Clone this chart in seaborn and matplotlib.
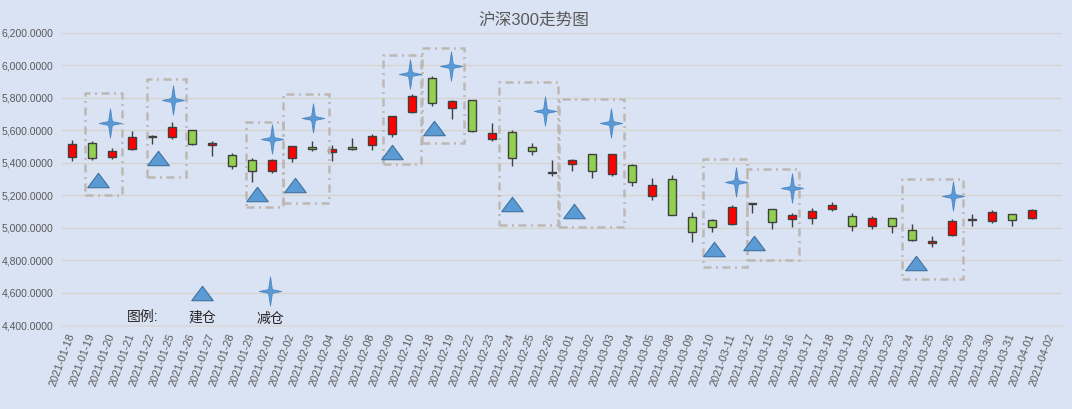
import numpy as np
import pandas as pd
import matplotlib
matplotlib.use("Agg")
import matplotlib.pyplot as plt
from matplotlib.path import Path
from matplotlib.patches import Rectangle
import seaborn as sns

# =========================
# DATA
# =========================
dates = [
    "2021-01-18", "2021-01-19", "2021-01-20", "2021-01-21", "2021-01-22",
    "2021-01-25", "2021-01-26", "2021-01-27", "2021-01-28", "2021-01-29",
    "2021-02-01", "2021-02-02", "2021-02-03", "2021-02-04", "2021-02-05",
    "2021-02-08", "2021-02-09", "2021-02-10", "2021-02-18", "2021-02-19",
    "2021-02-22", "2021-02-23", "2021-02-24", "2021-02-25", "2021-02-26",
    "2021-03-01", "2021-03-02", "2021-03-03", "2021-03-04", "2021-03-05",
    "2021-03-08", "2021-03-09", "2021-03-10", "2021-03-11", "2021-03-12",
    "2021-03-15", "2021-03-16", "2021-03-17", "2021-03-18", "2021-03-19",
    "2021-03-22", "2021-03-23", "2021-03-24", "2021-03-25", "2021-03-26",
    "2021-03-29", "2021-03-30", "2021-03-31", "2021-04-01", "2021-04-02",
]
open_ = [5438, 5524, 5438, 5485, 5567, 5561, 5598, 5506, 5450, 5415,
         5352, 5426, 5496, 5467, 5494, 5506, 5578, 5709, 5918, 5734,
         5783, 5543, 5586, 5494, 5343, 5393, 5454, 5329, 5386, 5195,
         5300, 5065, 5047, 5022, 5152, 5115, 5053, 5063, 5113, 5071,
         5009, 5059, 4984, 4906, 4953, 5052, 5040, 5084, 5059, np.nan]
high = [5539, 5532, 5493, 5594, 5572, 5653, 5600, 5532, 5459, 5428,
        5424, 5502, 5531, 5506, 5549, 5576, 5687, 5820, 5930, 5785,
        5785, 5642, 5600, 5522, 5419, 5425, 5456, 5456, 5390, 5306,
        5325, 5096, 5055, 5139, 5154, 5117, 5090, 5121, 5158, 5090,
        5071, 5062, 5022, 4947, 5053, 5084, 5108, 5086, 5115, np.nan]
low = [5409, 5415, 5424, 5480, 5512, 5543, 5506, 5444, 5360, 5284,
       5337, 5407, 5469, 5410, 5478, 5476, 5555, 5703, 5746, 5666,
       5590, 5535, 5379, 5445, 5316, 5347, 5304, 5316, 5255, 5174,
       5078, 4915, 4977, 5020, 5090, 4991, 5008, 5024, 5104, 4978,
       4995, 4966, 4920, 4883, 4950, 5011, 5032, 5013, 5057, np.nan]
close = [5518, 5430, 5475, 5561, 5561, 5621, 5512, 5524, 5377, 5352,
         5415, 5500, 5482, 5485, 5482, 5562, 5685, 5808, 5764, 5779,
         5592, 5580, 5432, 5469, 5339, 5417, 5349, 5454, 5279, 5263,
         5080, 4973, 5004, 5127, 5148, 5034, 5078, 5102, 5139, 5009,
         5059, 5009, 4928, 4922, 5042, 5048, 5096, 5046, 5108, np.nan]

# 建仓 / 减仓 signals (x in category units, y in index points)
buy_x = [1.31, 4.28, 9.25, 11.15, 16.0, 18.1, 22.0, 25.1, 32.1, 34.1, 42.2]
buy_y = [5296, 5426, 5210, 5262, 5467, 5611, 5146, 5104, 4870, 4909, 4784]
sell_x = [1.9, 5.07, 10.0, 12.07, 16.9, 18.93, 23.65, 26.93, 33.2, 35.98, 44.03]
sell_y = [5647, 5785, 5547, 5672, 5945, 5994, 5720, 5642, 5279, 5244, 5197]

# dashed frames around each trade: x0, x1, y0, y1
box_x0 = [0.65, 3.75, 8.68, 10.53, 15.53, 17.48, 21.35, 24.37, 31.57, 33.77, 41.5]
box_x1 = [2.5, 5.7, 10.57, 12.83, 17.45, 19.6, 24.3, 27.6, 33.77, 36.37, 44.53]
box_y0 = [5202, 5310, 5130, 5151, 5392, 5519, 5017, 5007, 4757, 4802, 4684]
box_y1 = [5826, 5912, 5648, 5822, 6060, 6107, 5898, 5790, 5423, 5360, 5300]

# =========================
# SETTINGS
# =========================
BG = "#DAE3F3"
sns.set_theme(style="white")
plt.rcParams["font.family"] = ["Liberation Sans", "Noto Sans CJK SC", "DejaVu Sans"]
plt.rcParams["axes.unicode_minus"] = False

df = pd.DataFrame({"date": dates, "open": open_, "high": high, "low": low, "close": close})
df["pos"] = np.arange(len(df))
df["up"] = df["close"] > df["open"]

fig = plt.figure(figsize=(10.72, 4.09), dpi=100, facecolor=BG)
ax = fig.add_axes([62 / 1072, 1 - 325.5 / 409, 1000 / 1072, 293 / 409])
ax.set_facecolor(BG)

# candles
valid = df.dropna()
ax.vlines(valid["pos"], valid["low"], valid["high"], color="#404040", lw=1.0, zorder=2)
body_lo = np.minimum(valid["open"], valid["close"])
body_h = np.maximum((valid["close"] - valid["open"]).abs(), 2)
colors = np.where(valid["up"], "#FF0000", "#92D050")
ax.bar(valid["pos"], body_h, bottom=body_lo, width=0.42, color=colors,
       edgecolor="#404040", linewidth=1.0, zorder=3)

# markers
tri = Path([(-1, -0.67), (1, -0.67), (0, 0.67), (-1, -0.67)],
           [Path.MOVETO, Path.LINETO, Path.LINETO, Path.CLOSEPOLY])
sv = [(0, 1), (0.13, 0.13), (0.76, 0), (0.13, -0.13), (0, -1),
      (-0.13, -0.13), (-0.76, 0), (-0.13, 0.13), (0, 1)]
star = Path(sv, [Path.MOVETO] + [Path.LINETO] * 7 + [Path.CLOSEPOLY])

sig = pd.DataFrame({"x": buy_x + [6.5], "y": buy_y + [4600]})
sns.scatterplot(data=sig, x="x", y="y", marker=tri, s=15.5 ** 2, color="#5B9BD5",
                edgecolor="#41719C", linewidth=0.8, ax=ax, zorder=5, legend=False)
sig2 = pd.DataFrame({"x": sell_x + [9.9], "y": sell_y + [4612]})
sns.scatterplot(data=sig2, x="x", y="y", marker=star, s=21 ** 2, color="#5B9BD5",
                edgecolor="#4A86C5", linewidth=0.6, ax=ax, zorder=5, legend=False)

# frames
for x0, x1, y0, y1 in zip(box_x0, box_x1, box_y0, box_y1):
    ax.add_patch(Rectangle((x0, y0), x1 - x0, y1 - y0, fill=False,
                           edgecolor="#BDB8B2", lw=1.8,
                           linestyle=(0, (3.2, 1.8, 0.8, 1.8)), zorder=4))

# legend texts
ax.text(3.55, 4455, "图例:", ha="center", va="center", fontsize=10, color="#262626")
ax.text(6.5, 4448, "建仓", ha="center", va="center", fontsize=10, color="#262626")
ax.text(9.9, 4443, "减仓", ha="center", va="center", fontsize=10, color="#262626")

# axes
ax.set_xlim(-0.5, len(dates) - 0.5)
ax.set_ylim(4400, 6200)
ax.set_yticks(np.arange(4400, 6201, 200))
ax.set_yticklabels([f"{v:,.4f}" for v in np.arange(4400, 6201, 200)],
                   fontsize=7.5, color="#595959")
ax.yaxis.grid(True, color="#D6D3CE", lw=0.9)
ax.set_axisbelow(True)
ax.set_xticks(df["pos"])
ax.set_xticklabels(dates, rotation=70, ha="right", va="center",
                   rotation_mode="anchor", fontsize=7.8, color="#595959")
ax.set_xticks(np.arange(-0.5, len(dates)), minor=True)
ax.tick_params(axis="x", which="major", length=0, pad=6)
ax.tick_params(axis="x", which="minor", length=4, color="#D9D9D9", width=0.8)
ax.tick_params(axis="y", length=0, pad=6)
for s in ["top", "right", "left"]:
    ax.spines[s].set_visible(False)
ax.spines["bottom"].set_color("#D9D9D9")
ax.set_xlabel("")
ax.set_ylabel("")

fig.text(534 / 1072, 1 - 20 / 409, "沪深300走势图", ha="center", va="center",
         fontsize=12, color="#595959")

fig.savefig("out.png", dpi=100, facecolor=BG)
